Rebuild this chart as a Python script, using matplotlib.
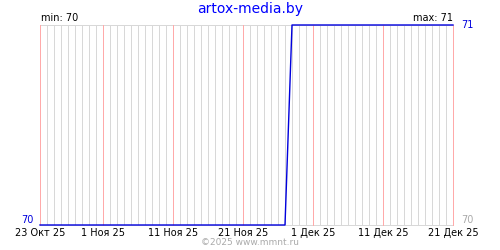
import matplotlib
matplotlib.use("Agg")
import matplotlib.pyplot as plt
import pandas as pd

# daily readings, 23 Oct 2025 .. 21 Dec 2025
start_date = "2025-10-23"
end_date = "2025-12-21"
values = [70, 70, 70, 70, 70, 70, 70, 70, 70, 70,
          70, 70, 70, 70, 70, 70, 70, 70, 70, 70,
          70, 70, 70, 70, 70, 70, 70, 70, 70, 70,
          70, 70, 70, 70, 70, 70, 71, 71, 71, 71,
          71, 71, 71, 71, 71, 71, 71, 71, 71, 71,
          71, 71, 71, 71, 71, 71, 71, 71, 71, 71]
tick_dates = ["2025-10-23", "2025-11-01", "2025-11-11", "2025-11-21",
              "2025-12-01", "2025-12-11", "2025-12-21"]
tick_labels = ["23 Окт 25", "1 Ноя 25", "11 Ноя 25", "21 Ноя 25",
               "1 Дек 25", "11 Дек 25", "21 Дек 25"]
title = "artox-media.by"
footer = "©2025 www.mmnt.ru"

dates = pd.date_range(start_date, end_date, freq="D")
y_min, y_max = min(values), max(values)

fig = plt.figure(figsize=(5, 2.5), dpi=100)
ax = fig.add_axes([0.08, 0.1, 0.826, 0.8])
ax.set_xlim(dates[0], dates[-1])
ax.set_ylim(y_min, y_max)
for s in ax.spines.values():
    s.set_visible(False)

px = 72 / fig.dpi  # one pixel in points

# daily grid, pink on the tick dates
ticks = pd.to_datetime(tick_dates)
for d in dates:
    pink = d in set(ticks)
    ax.axvline(d, color="#ffaaaa" if pink else "#d8d8d8", lw=px,
               zorder=2 if pink else 1, snap=True, clip_on=False)
ax.axhline(y_min, color="#d8d8d8", lw=px, zorder=1, snap=True, clip_on=False)
ax.axhline(y_max, color="#d8d8d8", lw=px, zorder=1, snap=True, clip_on=False)

ax.plot(dates, values, color="#0000dd", lw=1.4 * px, zorder=3, clip_on=False)

ax.set_xticks(ticks)
ax.set_xticklabels(tick_labels)
ax.tick_params(axis="x", length=0, pad=2, labelsize=7)
ax.set_yticks([])

ax.text(-0.015, 0, str(y_min), transform=ax.transAxes, ha="right", va="bottom",
        color="#0000dd", fontsize=7)
ax.text(1.02, 1, str(y_max), transform=ax.transAxes, ha="left", va="center",
        color="#0000dd", fontsize=7)
ax.text(1.02, 0, str(y_min), transform=ax.transAxes, ha="left", va="bottom",
        color="#aaaaaa", fontsize=7)
ax.text(0.003, 1.01, "min: %d" % y_min, transform=ax.transAxes, ha="left",
        va="bottom", fontsize=7)
ax.text(1.0, 1.01, "max: %d" % y_max, transform=ax.transAxes, ha="right",
        va="bottom", fontsize=7)

fig.text(0.5, 0.965, title, ha="center", va="center", color="#0000ff", fontsize=10)
fig.text(0.5, 0.03, footer, ha="center", va="center", color="#aaaaaa", fontsize=6.5)

fig.savefig("out.png", dpi=100)
